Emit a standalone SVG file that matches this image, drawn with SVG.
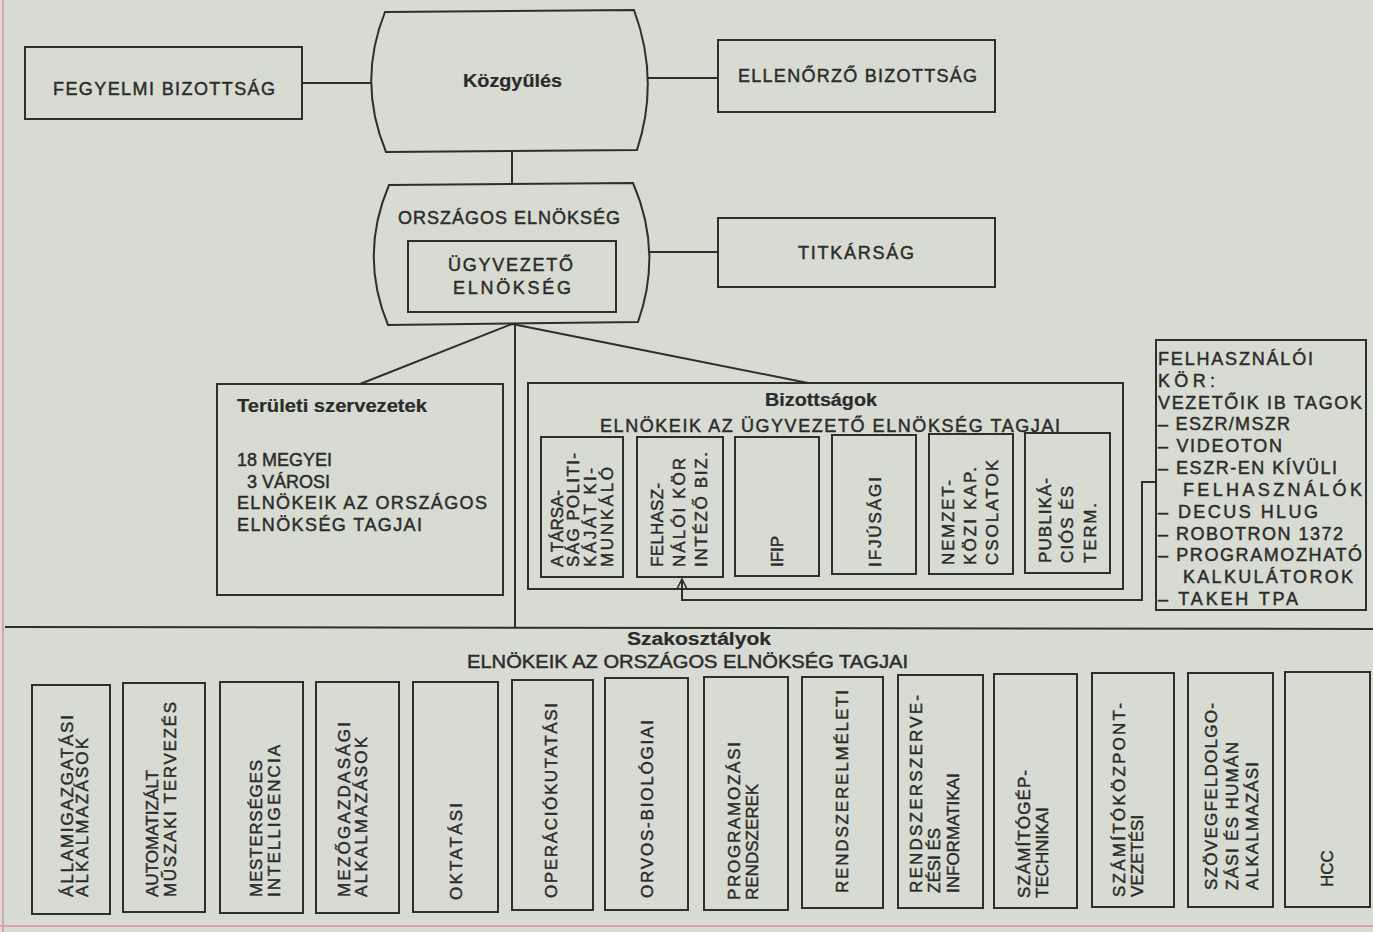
<svg xmlns="http://www.w3.org/2000/svg" width="1373" height="932" viewBox="0 0 1373 932">
<defs>
<style>
.bg{fill:#d7dbd1}
.n{fill:none;stroke:#2e2e2e;stroke-width:2}
.c{fill:none;stroke:#2e2e2e;stroke-width:2}
.t{font-family:"Liberation Sans",Arial,Helvetica,sans-serif;fill:#2b2b2b;stroke:#2b2b2b;stroke-width:0.45;font-size:18px}
.s{font-size:17px}
.b{font-weight:bold;stroke-width:0.2}
.edge{stroke:#d8a3ad;stroke-width:2;fill:none}
</style>
<marker id="arr" viewBox="0 0 12 12" refX="11" refY="6" markerWidth="12" markerHeight="12" markerUnits="userSpaceOnUse" orient="auto">
<path d="M1,1 L11,6 L1,11" fill="none" stroke="#2e2e2e" stroke-width="1.6"/>
</marker>
</defs>
<rect class="bg" x="0" y="0" width="1373" height="932"/>
<path class="edge" d="M3,0 L3,932"/>
<path class="edge" d="M0,926 L1373,926"/>

<g id="connectors">
<path class="c" d="M302,83 L372,83"/>
<path class="c" d="M648,78 L718,78"/>
<path class="c" d="M512,151 L512,184"/>
<path class="c" d="M649,252 L718,252"/>
<path class="c" d="M512,324 L360,384"/>
<path class="c" d="M512,324 L808,383"/>
<path class="c" d="M515,324 L515,627"/>
<path class="c" d="M1156,482 L1142,482 L1142,600 L682,600 L682,579" marker-end="url(#arr)"/>
</g>

<g id="fegyelmi">
<rect class="n" x="25" y="47" width="277" height="72"/>
<text class="t" x="53" y="95" textLength="222" lengthAdjust="spacing">FEGYELMI BIZOTTSÁG</text>
</g>

<g id="kozgyules">
<path class="n" d="M385,12 L634,10 Q660,80 637,150 L386,152 Q357,82 385,12 Z"/>
<text class="t b" x="463" y="87" font-size="20" textLength="99" lengthAdjust="spacingAndGlyphs">Közgyűlés</text>
</g>

<g id="ellenorzo">
<rect class="n" x="718" y="40" width="277" height="72"/>
<text class="t" x="738" y="82" textLength="239" lengthAdjust="spacing">ELLENŐRZŐ BIZOTTSÁG</text>
</g>

<g id="orszagos">
<path class="n" d="M389,185 L633,183 Q663,252 638,322 L388,325 Q359,255 389,185 Z"/>
<text class="t" x="398" y="224" textLength="222" lengthAdjust="spacing">ORSZÁGOS ELNÖKSÉG</text>
</g>

<g id="ugyvezeto">
<rect class="n" x="408" y="241" width="208" height="71"/>
<text class="t" x="448" y="271" textLength="125" lengthAdjust="spacing">ÜGYVEZETŐ</text>
<text class="t" x="453" y="294" textLength="118" lengthAdjust="spacing">ELNÖKSÉG</text>
</g>

<g id="titkarsag">
<rect class="n" x="718" y="218" width="277" height="69"/>
<text class="t" x="798" y="259" textLength="116" lengthAdjust="spacing">TITKÁRSÁG</text>
</g>

<g id="teruleti">
<rect class="n" x="217" y="384" width="286" height="211"/>
<text class="t b" x="237" y="412" textLength="190" lengthAdjust="spacingAndGlyphs">Területi szervezetek</text>
<text class="t" x="237" y="466">18 MEGYEI</text>
<text class="t" x="247" y="488">3 VÁROSI</text>
<text class="t" x="237" y="509" textLength="250" lengthAdjust="spacing">ELNÖKEIK AZ ORSZÁGOS</text>
<text class="t" x="237" y="531" textLength="185" lengthAdjust="spacing">ELNÖKSÉG TAGJAI</text>
</g>

<g id="bizottsagok">
<rect class="n" x="528" y="383" width="595" height="206"/>
<text class="t b" x="765" y="406" textLength="112" lengthAdjust="spacingAndGlyphs">Bizottságok</text>
<text class="t" x="600" y="432" textLength="460" lengthAdjust="spacing">ELNÖKEIK AZ ÜGYVEZETŐ ELNÖKSÉG TAGJAI</text>
</g>

<g id="biz-tarsasag">
<rect class="n" x="541" y="437" width="82" height="140"/>
<text class="t s" transform="translate(563,567) rotate(-90)" textLength="77" lengthAdjust="spacing">A TÁRSA-</text>
<text class="t s" transform="translate(579,567) rotate(-90)" textLength="114" lengthAdjust="spacing">SÁG POLITI-</text>
<text class="t s" transform="translate(596,567) rotate(-90)" textLength="99" lengthAdjust="spacing">KÁJÁT KI-</text>
<text class="t s" transform="translate(613,567) rotate(-90)" textLength="100" lengthAdjust="spacing">MUNKÁLÓ</text>
</g>
<g id="biz-felhasznaloi">
<rect class="n" x="637" y="437" width="86" height="140"/>
<text class="t s" transform="translate(663,567) rotate(-90)" textLength="84" lengthAdjust="spacing">FELHASZ-</text>
<text class="t s" transform="translate(685,567) rotate(-90)" textLength="109" lengthAdjust="spacing">NÁLÓI KÖR</text>
<text class="t s" transform="translate(707,567) rotate(-90)" textLength="115" lengthAdjust="spacing">INTÉZŐ BIZ.</text>
</g>
<g id="biz-ifip">
<rect class="n" x="735" y="437" width="84" height="139"/>
<text class="t s" transform="translate(783,567) rotate(-90)">IFIP</text>
</g>
<g id="biz-ifjusagi">
<rect class="n" x="832" y="435" width="84" height="139"/>
<text class="t s" transform="translate(881,567) rotate(-90)" textLength="90" lengthAdjust="spacing">IFJÚSÁGI</text>
</g>
<g id="biz-nemzetkozi">
<rect class="n" x="929" y="434" width="84" height="140"/>
<text class="t s" transform="translate(954,565) rotate(-90)" textLength="85" lengthAdjust="spacing">NEMZET-</text>
<text class="t s" transform="translate(976,565) rotate(-90)" textLength="98" lengthAdjust="spacing">KÖZI KAP.</text>
<text class="t s" transform="translate(998,565) rotate(-90)" textLength="105" lengthAdjust="spacing">CSOLATOK</text>
</g>
<g id="biz-publikacios">
<rect class="n" x="1025" y="433" width="85" height="140"/>
<text class="t s" transform="translate(1051,563) rotate(-90)" textLength="85" lengthAdjust="spacing">PUBLIKÁ-</text>
<text class="t s" transform="translate(1073,563) rotate(-90)" textLength="77" lengthAdjust="spacing">CIÓS ÉS</text>
<text class="t s" transform="translate(1096,563) rotate(-90)" textLength="60" lengthAdjust="spacing">TERM.</text>
</g>

<g id="felhasznaloi-kor">
<rect class="n" x="1156" y="340" width="210" height="270"/>
<text class="t" x="1158" y="365" textLength="155" lengthAdjust="spacing">FELHASZNÁLÓI</text>
<text class="t" x="1158" y="387" textLength="57" lengthAdjust="spacing">KÖR:</text>
<text class="t" x="1158" y="409" textLength="204" lengthAdjust="spacing">VEZETŐIK IB TAGOK</text>
<text class="t" x="1158" y="430" textLength="132" lengthAdjust="spacing">– ESZR/MSZR</text>
<text class="t" x="1158" y="452" textLength="124" lengthAdjust="spacing">– VIDEOTON</text>
<text class="t" x="1158" y="474" textLength="179" lengthAdjust="spacing">– ESZR-EN KÍVÜLI</text>
<text class="t" x="1183" y="496" textLength="179" lengthAdjust="spacing">FELHASZNÁLÓK</text>
<text class="t" x="1158" y="518" textLength="160" lengthAdjust="spacing">– DECUS HLUG</text>
<text class="t" x="1158" y="540" textLength="185" lengthAdjust="spacing">– ROBOTRON 1372</text>
<text class="t" x="1158" y="561" textLength="204" lengthAdjust="spacing">– PROGRAMOZHATÓ</text>
<text class="t" x="1183" y="583" textLength="170" lengthAdjust="spacing">KALKULÁTOROK</text>
<text class="t" x="1158" y="605" textLength="140" lengthAdjust="spacing">– TAKEH TPA</text>
</g>

<g id="szakosztalyok">
<path class="n" d="M5,627 L1373,629"/>
<text class="t b" x="627" y="645" textLength="144" lengthAdjust="spacingAndGlyphs">Szakosztályok</text>
<text class="t" x="467" y="668" textLength="441" lengthAdjust="spacingAndGlyphs">ELNÖKEIK AZ ORSZÁGOS ELNÖKSÉG TAGJAI</text>
</g>

<g id="sz-allamigazgatasi">
<rect class="n" x="32" y="685" width="78" height="229"/>
<text class="t s" transform="translate(73,897) rotate(-90)" textLength="182" lengthAdjust="spacing">ÁLLAMIGAZGATÁSI</text>
<text class="t s" transform="translate(88,897) rotate(-90)" textLength="159" lengthAdjust="spacing">ALKALMAZÁSOK</text>
</g>
<g id="sz-automatizalt">
<rect class="n" x="123" y="683" width="82" height="229"/>
<text class="t s" transform="translate(158,897) rotate(-90)" textLength="127" lengthAdjust="spacing">AUTOMATIZÁLT</text>
<text class="t s" transform="translate(176,897) rotate(-90)" textLength="195" lengthAdjust="spacing">MŰSZAKI TERVEZÉS</text>
</g>
<g id="sz-mesterseges">
<rect class="n" x="220" y="682" width="83" height="231"/>
<text class="t s" transform="translate(262,897) rotate(-90)" textLength="137" lengthAdjust="spacing">MESTERSÉGES</text>
<text class="t s" transform="translate(280,897) rotate(-90)" textLength="152" lengthAdjust="spacing">INTELLIGENCIA</text>
</g>
<g id="sz-mezogazdasagi">
<rect class="n" x="316" y="682" width="83" height="231"/>
<text class="t s" transform="translate(350,897) rotate(-90)" textLength="175" lengthAdjust="spacing">MEZŐGAZDASÁGI</text>
<text class="t s" transform="translate(367,897) rotate(-90)" textLength="160" lengthAdjust="spacing">ALKALMAZÁSOK</text>
</g>
<g id="sz-oktatasi">
<rect class="n" x="413" y="682" width="85" height="230"/>
<text class="t s" transform="translate(462,900) rotate(-90)" textLength="97" lengthAdjust="spacing">OKTATÁSI</text>
</g>
<g id="sz-operaciokutatasi">
<rect class="n" x="512" y="680" width="81" height="230"/>
<text class="t s" transform="translate(557,898) rotate(-90)" textLength="195" lengthAdjust="spacing">OPERÁCIÓKUTATÁSI</text>
</g>
<g id="sz-orvos">
<rect class="n" x="605" y="678" width="83" height="232"/>
<text class="t s" transform="translate(653,898) rotate(-90)" textLength="178" lengthAdjust="spacing">ORVOS-BIOLÓGIAI</text>
</g>
<g id="sz-programozasi">
<rect class="n" x="704" y="677" width="84" height="233"/>
<text class="t s" transform="translate(740,900) rotate(-90)" textLength="158" lengthAdjust="spacing">PROGRAMOZÁSI</text>
<text class="t s" transform="translate(758,900) rotate(-90)">RENDSZEREK</text>
</g>
<g id="sz-rendszerelmeleti">
<rect class="n" x="802" y="677" width="81" height="231"/>
<text class="t s" transform="translate(848,893) rotate(-90)" textLength="203" lengthAdjust="spacing">RENDSZERELMÉLETI</text>
</g>
<g id="sz-rendszerszervezesi">
<rect class="n" x="898" y="675" width="85" height="233"/>
<text class="t s" transform="translate(922,893) rotate(-90)" textLength="198" lengthAdjust="spacing">RENDSZERSZERVE-</text>
<text class="t s" transform="translate(940,893) rotate(-90)">ZÉSI ÉS</text>
<text class="t s" transform="translate(959,893) rotate(-90)">INFORMATIKAI</text>
</g>
<g id="sz-szamitogep">
<rect class="n" x="994" y="674" width="83" height="234"/>
<text class="t s" transform="translate(1030,898) rotate(-90)" textLength="128" lengthAdjust="spacing">SZÁMÍTÓGÉP-</text>
<text class="t s" transform="translate(1048,898) rotate(-90)">TECHNIKAI</text>
</g>
<g id="sz-szamitokozpont">
<rect class="n" x="1092" y="673" width="82" height="234"/>
<text class="t s" transform="translate(1125,897) rotate(-90)" textLength="194" lengthAdjust="spacing">SZÁMÍTÓKÖZPONT-</text>
<text class="t s" transform="translate(1143,897) rotate(-90)">VEZETÉSI</text>
</g>
<g id="sz-szovegfeldolgozasi">
<rect class="n" x="1188" y="673" width="85" height="234"/>
<text class="t s" transform="translate(1217,890) rotate(-90)" textLength="187" lengthAdjust="spacing">SZÖVEGFELDOLGO-</text>
<text class="t s" transform="translate(1238,890) rotate(-90)" textLength="148" lengthAdjust="spacing">ZÁSI ÉS HUMÁN</text>
<text class="t s" transform="translate(1258,890) rotate(-90)" textLength="128" lengthAdjust="spacing">ALKALMAZÁSI</text>
</g>
<g id="sz-hcc">
<rect class="n" x="1285" y="672" width="85" height="235"/>
<text class="t s" transform="translate(1333,887) rotate(-90)">HCC</text>
</g>
</svg>
